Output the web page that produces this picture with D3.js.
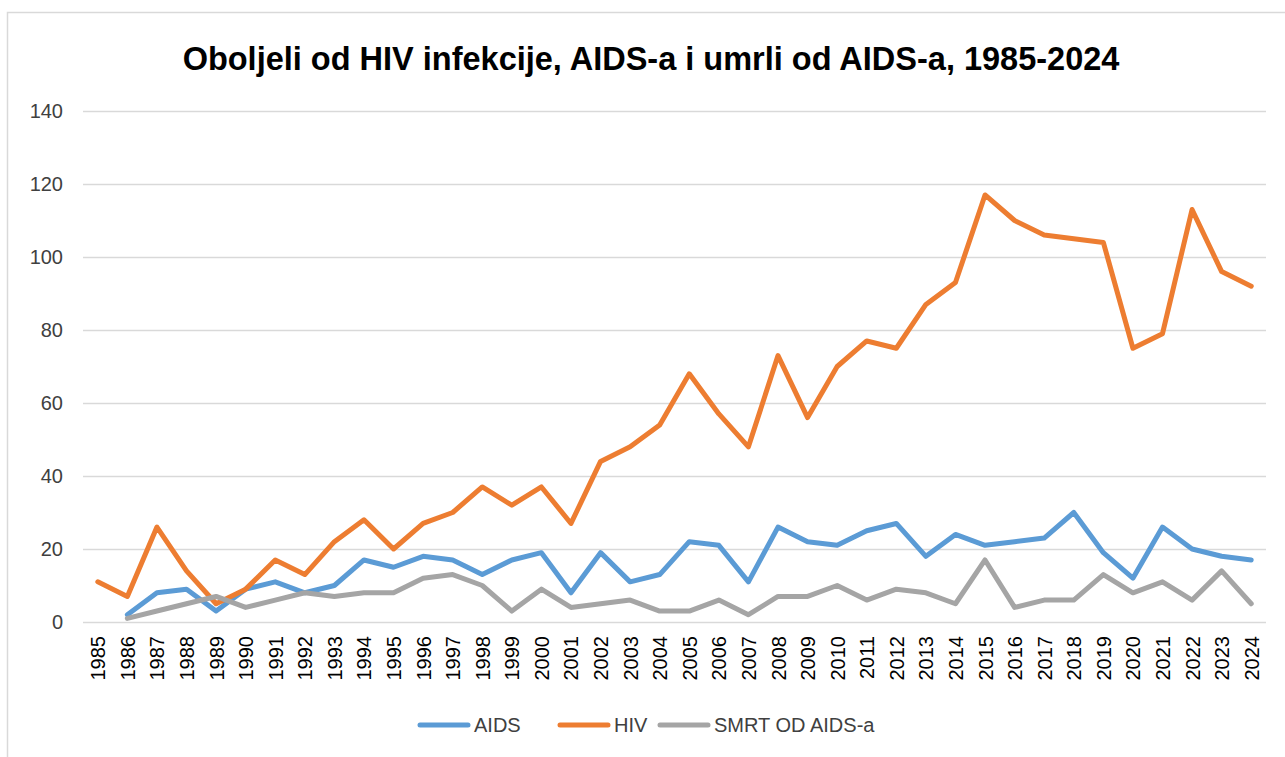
<!DOCTYPE html>
<html>
<head>
<meta charset="utf-8">
<script src="https://cdn.jsdelivr.net/npm/d3@7"></script>
<style>
  html, body { margin: 0; padding: 0; background: #fff; }
  svg { display: block; }
</style>
</head>
<body>
<svg id="chart" width="1285" height="757"></svg>
<script>
const years = ["1985","1986","1987","1988","1989","1990","1991","1992","1993","1994","1995","1996","1997","1998","1999","2000","2001","2002","2003","2004","2005","2006","2007","2008","2009","2010","2011","2012","2013","2014","2015","2016","2017","2018","2019","2020","2021","2022","2023","2024"];
const aids = [null,2,8,9,3,9,11,8,10,17,15,18,17,13,17,19,8,19,11,13,22,21,11,26,22,21,25,27,18,24,21,22,23,30,19,12,26,20,18,17];
const hiv = [11,7,26,14,5,9,17,13,22,28,20,27,30,37,32,37,27,44,48,54,68,57,48,73,56,70,77,75,87,93,117,110,106,105,104,75,79,113,96,92];
const smrt = [null,1,3,5,7,4,6,8,7,8,8,12,13,10,3,9,4,5,6,3,3,6,2,7,7,10,6,9,8,5,17,4,6,6,13,8,11,6,14,5];
const yTicks = [0,20,40,60,80,100,120,140];
const seriesNames = ["AIDS","HIV","SMRT OD AIDS-a"];
const seriesColors = ["#5B9BD5","#ED7D31","#A5A5A5"];
const title = "Oboljeli od HIV infekcije, AIDS-a i umrli od AIDS-a, 1985-2024";

const svg = d3.select("#chart");
const font = "'Liberation Sans', Arial, sans-serif";

// outer border
svg.append("rect")
  .attr("x", 7.5).attr("y", 12.5)
  .attr("width", 1300).attr("height", 760)
  .attr("fill", "none").attr("stroke", "#D9D9D9").attr("stroke-width", 1.5);

const plot = { left: 83, right: 1266, top: 111, bottom: 622 };

const x = d3.scalePoint().domain(years).range([plot.left, plot.right]).padding(0.5);
const y = d3.scaleLinear().domain([0, 140]).range([plot.bottom, plot.top]);

// title
svg.append("text")
  .attr("x", 651).attr("y", 70)
  .attr("text-anchor", "middle")
  .attr("font-family", font).attr("font-weight", "bold").attr("font-size", 32.5)
  .attr("fill", "#000")
  .text(title);

// gridlines + y labels
const yAxis = d3.axisLeft(y).tickValues(yTicks).tickSize(-(plot.right - plot.left)).tickPadding(20);
const gy = svg.append("g").attr("transform", `translate(${plot.left},0)`).call(yAxis);
gy.select(".domain").remove();
gy.selectAll(".tick line").attr("stroke", "#D9D9D9").attr("stroke-width", 1.5);
gy.selectAll(".tick text")
  .attr("font-family", font).attr("font-size", 20).attr("fill", "#404040");

// x labels
const xAxis = d3.axisBottom(x).tickSize(0).tickPadding(0);
const gx = svg.append("g").attr("transform", `translate(0,${plot.bottom})`).call(xAxis);
gx.select(".domain").remove();
gx.selectAll(".tick text")
  .attr("font-family", font).attr("font-size", 20).attr("fill", "#000")
  .attr("text-anchor", "end")
  .attr("transform", "rotate(-90)")
  .attr("x", -14).attr("y", 0).attr("dy", "0.35em");

// lines
const allSeries = [aids, hiv, smrt];
const line = d3.line()
  .defined(d => d.v != null)
  .x(d => x(d.year))
  .y(d => y(d.v));

allSeries.forEach((vals, i) => {
  const data = years.map((yr, j) => ({ year: yr, v: vals[j] }));
  svg.append("path")
    .datum(data)
    .attr("d", line)
    .attr("fill", "none")
    .attr("stroke", seriesColors[i])
    .attr("stroke-width", 5)
    .attr("stroke-linejoin", "round")
    .attr("stroke-linecap", "round");
});

// legend
const legendItems = [
  { x: 420, name: seriesNames[0], color: seriesColors[0] },
  { x: 560, name: seriesNames[1], color: seriesColors[1] },
  { x: 660, name: seriesNames[2], color: seriesColors[2] }
];
const lg = svg.append("g");
legendItems.forEach(it => {
  lg.append("line")
    .attr("x1", it.x).attr("x2", it.x + 48)
    .attr("y1", 725).attr("y2", 725)
    .attr("stroke", it.color).attr("stroke-width", 5).attr("stroke-linecap", "round");
  lg.append("text")
    .attr("x", it.x + 54).attr("y", 725).attr("dy", "0.35em")
    .attr("font-family", font).attr("font-size", 20).attr("fill", "#404040")
    .text(it.name);
});
</script>
</body>
</html>
